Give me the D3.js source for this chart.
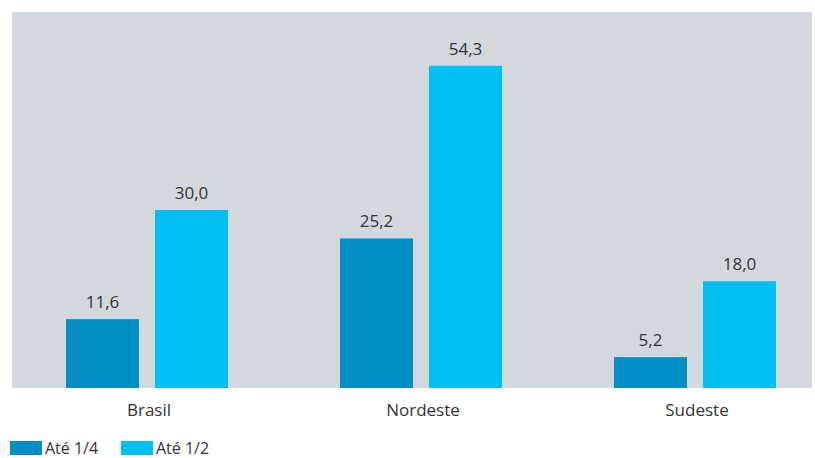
<!DOCTYPE html>
<html lang="pt">
<head>
  <meta charset="utf-8" />
  <title>Até 1/4 e até 1/2 salário mínimo</title>
  <style type="text/css">
    body { margin: 0; background: #fff; font-family: "Open Sans", sans-serif; }
    .vlabel { font-size: 17px; fill: #333; }
    .cat { font-size: 17px; fill: #333; }
    .leg { font-size: 16px; fill: #333; }
  </style>
</head>
<body>
  <div id="graphic"></div>

  <script src="https://cdn.jsdelivr.net/npm/d3@7/dist/d3.min.js"></script>
  <script>
    // dados
    var regioes = ["Brasil", "Nordeste", "Sudeste"];
    var series = ["Até 1/4", "Até 1/2"];
    var ate14 = [11.6, 25.2, 5.2];
    var ate12 = [30.0, 54.3, 18.0];
    var cores = ["#008FC5", "#00BFF2"];

    var width = 815, height = 458;
    var panel = {left: 12, right: 812, top: 12, bottom: 388};

    var svg = d3.select('#graphic').append('svg')
      .attr('width', width)
      .attr('height', height)
      .style('display', 'block');

    // fundo cinza
    svg.append('rect')
      .attr('x', panel.left)
      .attr('y', panel.top)
      .attr('width', panel.right - panel.left)
      .attr('height', panel.bottom - panel.top)
      .attr('fill', '#D3D8DF');

    var x0 = d3.scaleBand()
      .domain(regioes)
      .range([10, 832]);

    var x1 = d3.scaleBand()
      .domain(series)
      .range([x0.bandwidth() / 2 - 81, x0.bandwidth() / 2 + 81])
      .paddingInner(0.18);

    var y = d3.scaleLinear()
      .domain([0, 60])
      .range([panel.bottom, panel.bottom - 356]);

    var colour = d3.scaleOrdinal().domain(series).range(cores);

    var data = regioes.map(function(r, i) {
      return {regiao: r, valores: [
        {serie: series[0], valor: ate14[i]},
        {serie: series[1], valor: ate12[i]}
      ]};
    });

    var fmt = function(v) { return d3.format('.1f')(v).replace('.', ','); };

    var grupos = svg.selectAll('g.grupo')
      .data(data)
      .enter()
      .append('g')
      .attr('class', 'grupo')
      .attr('transform', function(d) { return 'translate(' + x0(d.regiao) + ',0)'; });

    grupos.selectAll('rect')
      .data(function(d) { return d.valores; })
      .enter()
      .append('rect')
      .attr('x', function(d) { return x1(d.serie); })
      .attr('y', function(d) { return y(d.valor); })
      .attr('width', x1.bandwidth())
      .attr('height', function(d) { return y(0) - y(d.valor); })
      .attr('fill', function(d) { return colour(d.serie); });

    grupos.selectAll('text.vlabel')
      .data(function(d) { return d.valores; })
      .enter()
      .append('text')
      .attr('class', 'vlabel')
      .attr('x', function(d) { return x1(d.serie) + x1.bandwidth() / 2; })
      .attr('y', function(d) { return y(d.valor) - 11; })
      .attr('text-anchor', 'middle')
      .text(function(d) { return fmt(d.valor); });

    grupos.append('text')
      .attr('class', 'cat')
      .attr('x', x0.bandwidth() / 2 + 2)
      .attr('y', 416)
      .attr('text-anchor', 'middle')
      .text(function(d) { return d.regiao; });

    // legenda
    var leg = svg.append('g').attr('transform', 'translate(10,441)');
    var legX = [0, 111];
    series.forEach(function(s, i) {
      leg.append('rect')
        .attr('x', legX[i])
        .attr('y', 0)
        .attr('width', 32)
        .attr('height', 14)
        .attr('fill', colour(s));
      leg.append('text')
        .attr('class', 'leg')
        .attr('x', legX[i] + 35)
        .attr('y', 13)
        .text(s);
    });
  </script>
</body>
</html>
